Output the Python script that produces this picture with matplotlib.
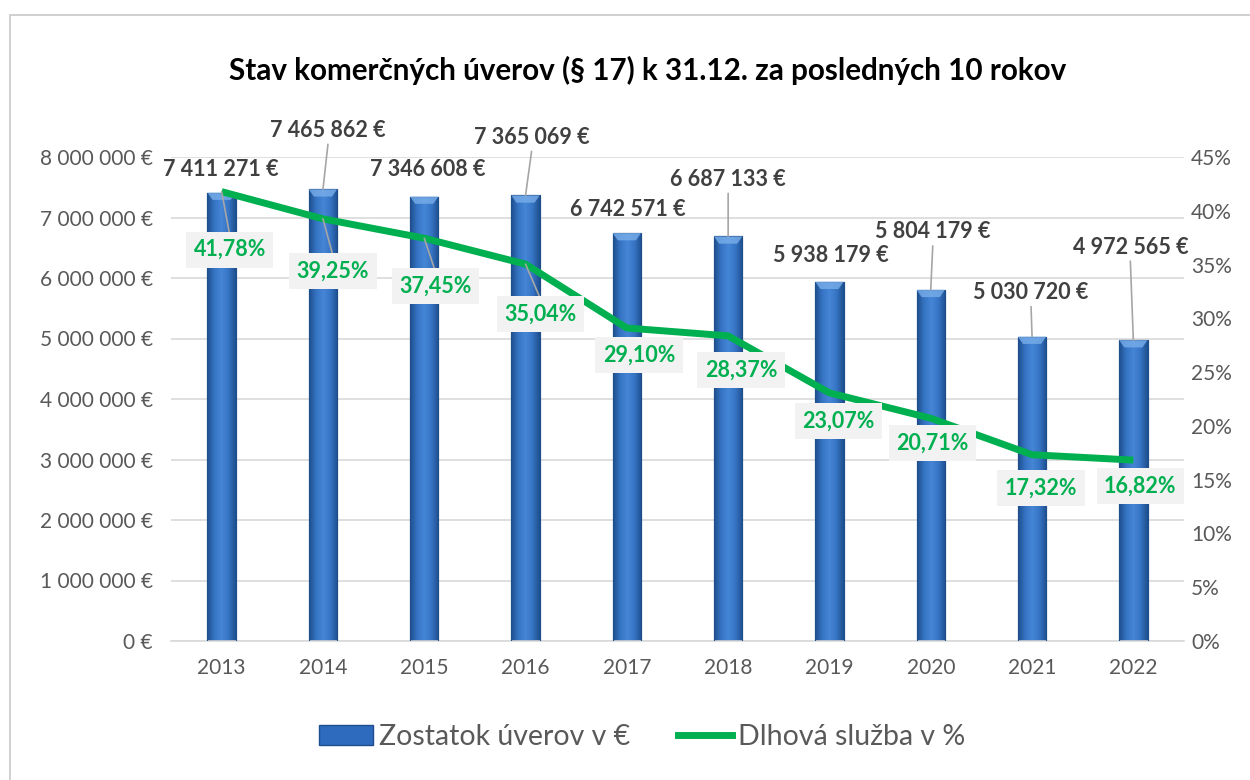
import matplotlib
matplotlib.use("Agg")
import matplotlib.pyplot as plt
import numpy as np
from matplotlib.colors import LinearSegmentedColormap
from matplotlib.patches import Rectangle, Patch, Polygon
from matplotlib.lines import Line2D

plt.rcParams['font.family'] = ['Lato', 'DejaVu Sans']

years = ['2013', '2014', '2015', '2016', '2017', '2018', '2019', '2020', '2021', '2022']
balances = [7411271, 7465862, 7346608, 7365069, 6742571, 6687133, 5938179, 5804179, 5030720, 4972565]
debt_service = [41.78, 39.25, 37.45, 35.04, 29.10, 28.37, 23.07, 20.71, 17.32, 16.82]
title = "Stav komerčných úverov (§ 17) k 31.12. za posledných 10 rokov"
legend_labels = ["Zostatok úverov v €", "Dlhová služba v %"]

# label offsets (pixels) relative to data points
bar_lbl_off = [(-1, 23), (5, 59), (3, 27), (6, 58), (1, 24), (0, 57), (1, 26), (2, 58), (-1, 44), (-3, 93)]
pct_lbl_off = [(8, -58), (10, -52), (11, -48), (15, -50), (12, -27), (13, -34), (9, -28), (2, -25), (9, -33), (7, -26)]

def fmt_eur(v):
    return f"{v:,.0f}".replace(",", " ") + " €"

def fmt_pct(p):
    return f"{p:.2f}".replace(".", ",") + "%"

fig = plt.figure(figsize=(12.5, 7.8), dpi=100)
fig.patches.append(Rectangle((10/1250, -0.05), 1.2, 1 - 15/780 + 0.05, transform=fig.transFigure,
                             fill=False, edgecolor='#C8C8C8', lw=1.2, zorder=0))

ax = fig.add_axes([171/1250, 1 - 641/780, 1013/1250, (641 - 157)/780])
x = np.arange(len(years))
bars = ax.bar(x, balances, width=0.28, color='#2E6BBF', edgecolor='#1F4E8C', lw=0.8, zorder=2)

cmap = LinearSegmentedColormap.from_list('b', ['#1E4F8F', '#3674C4', '#4686D6', '#3674C4', '#1E4F8F'])
grad = np.linspace(0, 1, 64).reshape(1, -1)
for b in bars:
    x0, w, h = b.get_x(), b.get_width(), b.get_height()
    im = ax.imshow(grad, extent=(x0, x0 + w, 0, h), aspect='auto', cmap=cmap, zorder=2.5,
                   interpolation='bicubic')
    im.set_clip_path(b)
    ax.add_patch(Rectangle((x0, 0), w, h, fill=False, edgecolor='#1F4E8C', lw=0.8, zorder=2.6))
    # top bevel highlight
    ax.add_patch(Polygon([(x0, h), (x0 + w, h), (x0 + w*0.82, h - 0.12e6), (x0 + w*0.18, h - 0.12e6)],
                         closed=True, color='#79AEEA', lw=0, alpha=0.8, zorder=2.7))

ax.set_xlim(-0.5, len(years) - 0.5)
ax.set_ylim(0, 8e6)
ax.set_yticks(np.arange(0, 8e6 + 1, 1e6))
ax.set_yticklabels([fmt_eur(v) for v in np.arange(0, 8e6 + 1, 1e6)])
ax.set_xticks(x)
ax.set_xticklabels(years)
ax.grid(axis='y', color='#D9D9D9', lw=1.2, zorder=0)
ax.set_axisbelow(True)
for s in ['top', 'right', 'left']:
    ax.spines[s].set_visible(False)
ax.spines['bottom'].set_color('#D9D9D9')
ax.spines['bottom'].set_linewidth(1.2)
ax.tick_params(axis='both', length=0, labelsize=15, labelcolor='#595959')
ax.tick_params(axis='y', pad=13)
ax.tick_params(axis='x', pad=12)

for i, (v, (dx, dy)) in enumerate(zip(balances, bar_lbl_off)):
    ax.annotate(fmt_eur(v), xy=(x[i], v), xytext=(dx, dy), textcoords='offset pixels',
                ha='center', va='center', fontsize=15.5, fontweight='bold', color='#404040',
                annotation_clip=False, zorder=5)
    if dy > 40:
        ax.annotate('', xy=(x[i], v), xytext=(dx, dy - 14), textcoords='offset pixels',
                    arrowprops=dict(arrowstyle='-', color='#A6A6A6', lw=1.2, shrinkA=0, shrinkB=0),
                    annotation_clip=False, zorder=3)

ax2 = ax.twinx()
ax2.set_ylim(0, 45)
ax2.set_yticks(np.arange(0, 46, 5))
ax2.set_yticklabels([f"{t}%" for t in range(0, 46, 5)])
for s in ax2.spines.values():
    s.set_visible(False)
ax2.tick_params(axis='y', length=0, labelsize=15, labelcolor='#595959', pad=5)
ax2.plot(x, debt_service, color='#00B050', lw=5, solid_capstyle='butt', zorder=4)

for i, (p, (dx, dy)) in enumerate(zip(debt_service, pct_lbl_off)):
    if dy < -40:
        ax2.annotate('', xy=(x[i], p), xytext=(dx, dy + 15), textcoords='offset pixels',
                     arrowprops=dict(arrowstyle='-', color='#A6A6A6', lw=1.2, shrinkA=0, shrinkB=0),
                     annotation_clip=False, zorder=5)
    ax2.annotate(fmt_pct(p), xy=(x[i], p), xytext=(dx, dy), textcoords='offset pixels',
                 ha='center', va='center', fontsize=15.5, fontweight='bold', color='#00B050',
                 bbox=dict(boxstyle='square,pad=0.35', fc='#F2F2F2', ec='none'),
                 annotation_clip=False, zorder=6)

fig.text(648/1250, 1 - 70/780, title, ha='center', va='center', fontsize=21.3, fontweight='bold',
         color='#000000')

handles = [Patch(facecolor='#2E6BBF', edgecolor='#1F4E8C'),
           Line2D([0], [0], color='#00B050', lw=5)]
leg = fig.legend(handles, legend_labels, loc='center', bbox_to_anchor=(642/1250, 1 - 737/780),
                 ncol=2, frameon=False, fontsize=20.5, handlelength=1.9, handleheight=0.7,
                 columnspacing=1.7, handletextpad=0.2)
for t in leg.get_texts():
    t.set_color('#595959')

fig.savefig('out.png', dpi=100)
